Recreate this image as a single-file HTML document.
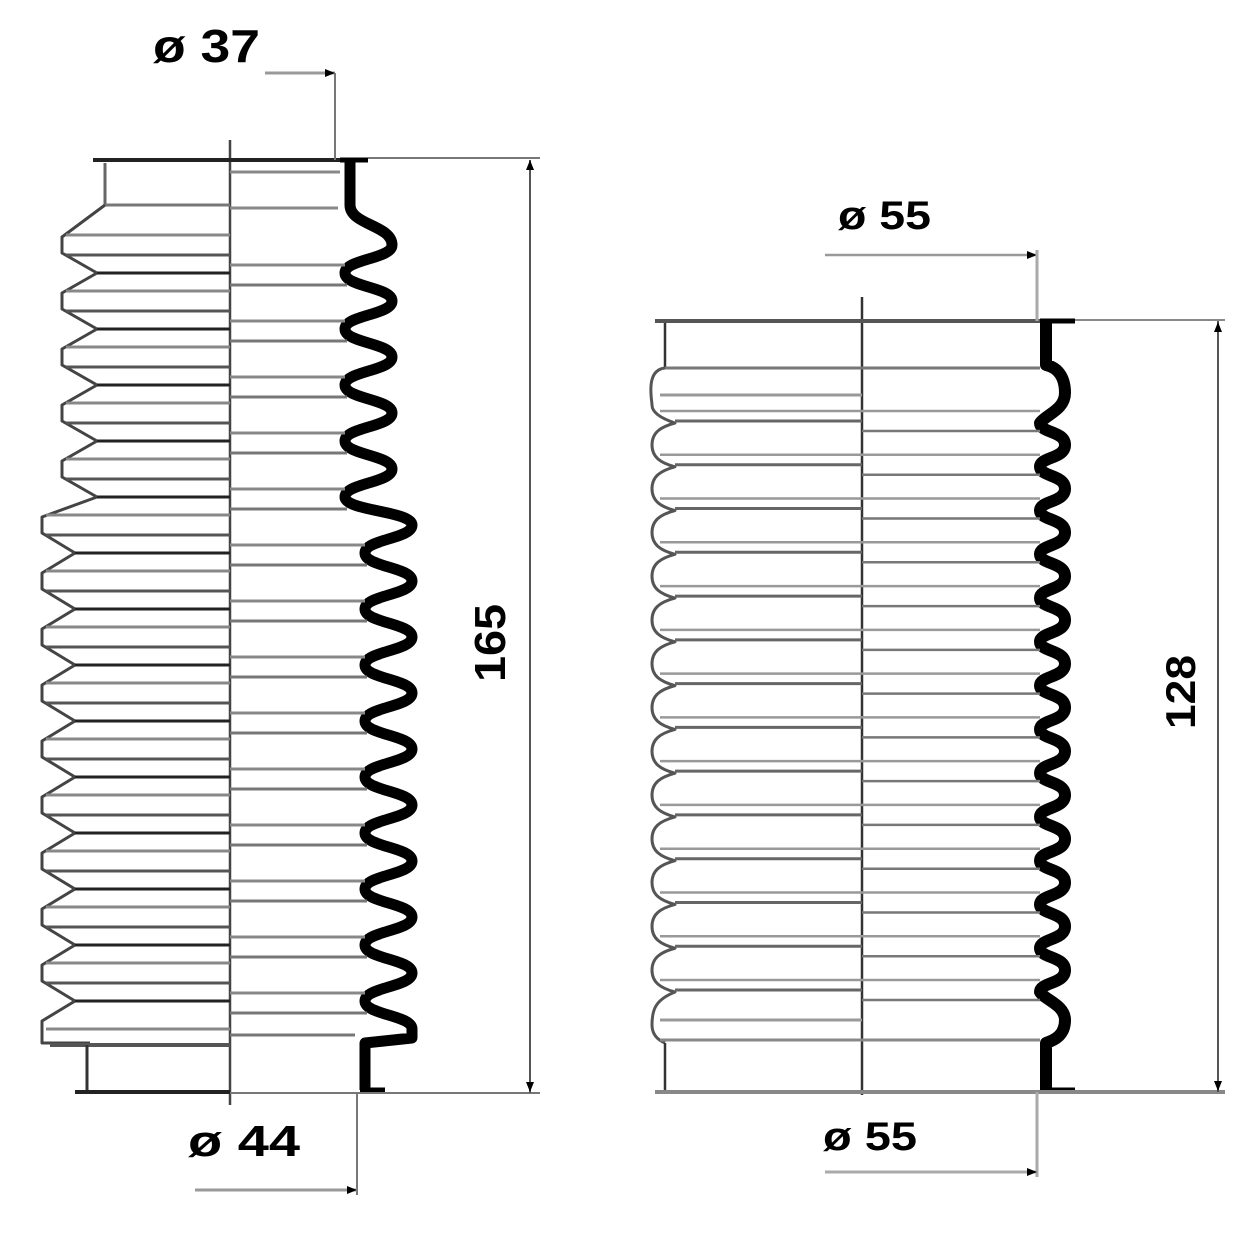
<!DOCTYPE html>
<html><head><meta charset="utf-8"><style>
html,body{margin:0;padding:0;background:#fff;width:1250px;height:1250px;overflow:hidden}
svg{display:block}
text{font-family:"Liberation Sans",Arial,sans-serif;font-weight:bold;fill:#000}
</style></head><body>
<svg id="s" width="1250" height="1250" viewBox="0 0 1250 1250" xmlns="http://www.w3.org/2000/svg">
<g id="g" fill="none" stroke-linecap="butt"></g>
<text x="153" y="62" font-size="46" textLength="107" lengthAdjust="spacingAndGlyphs">ø 37</text>
<text x="838" y="229" font-size="40" textLength="93" lengthAdjust="spacingAndGlyphs">ø 55</text>
<text x="188" y="1156" font-size="44" textLength="112" lengthAdjust="spacingAndGlyphs">ø 44</text>
<text x="823" y="1150" font-size="40" textLength="94" lengthAdjust="spacingAndGlyphs">ø 55</text>
<text transform="translate(505,682) rotate(-90)" font-size="44" textLength="78" lengthAdjust="spacingAndGlyphs">165</text>
<text transform="translate(1195,729) rotate(-90)" font-size="42" textLength="74" lengthAdjust="spacingAndGlyphs">128</text>
</svg>
<script>
var g=document.getElementById('g'),h='';
function L(x1,y1,x2,y2,c,w){h+='<line x1="'+x1+'" y1="'+y1+'" x2="'+x2+'" y2="'+y2+'" stroke="'+(c||'#555')+'" stroke-width="'+(w||2)+'"/>';}
function P(d,c,w){h+='<path d="'+d+'" stroke="'+c+'" stroke-width="'+w+'" stroke-linejoin="round"/>';}
function arrowH(x,y){h+='<polygon points="'+(x-10)+','+(y-4)+' '+x+','+y+' '+(x-10)+','+(y+4)+'" fill="#000"/>';}
function arrowV(x,y,dir){h+='<polygon points="'+(x-4)+','+(y+10*dir)+' '+x+','+y+' '+(x+4)+','+(y+10*dir)+'" fill="#000"/>';}
/* ---------- LEFT BELLOWS ---------- */
var ax=230;
L(ax,140,ax,1105,'#444',2.5);
L(93,160,368,160,'#222',4); L(368,158,540,158,'#777',2);
L(105,163,105,205,'#666',3);
L(105,205,ax,205,'#777',3); L(ax,172,340,172,'#888',3);L(ax,208,338,208,'#888',3);
var peaks=[],vals=[];
for(var i=0;i<15;i++)peaks.push(245+56*i);
for(var i=0;i<14;i++)vals.push(273+56*i);
var lp=function(i){return i<5?62:42},lv=function(i){return i<5?97:75};
var rp=function(i){return i<5?392:412},rv=function(i){return i<5?345:365};
var d='M105,205 L'+lp(0)+','+(peaks[0]-8);
for(var i=0;i<15;i++){d+=' L'+lp(i)+','+(peaks[i]-8)+' L'+lp(i)+','+(peaks[i]+8);if(i<14)d+=' L'+lv(i)+','+vals[i];}
d+=' L'+lp(14)+',1043 L90,1043';
P(d,'#444',3);
var r='M350,162 L350,205 C350,225 '+rp(0)+',225 '+rp(0)+','+peaks[0];
var px=rp(0),py=peaks[0];
for(var i=0;i<14;i++){
 var vx=rv(i),vy=vals[i];r+=' C'+px+','+((py+vy)/2)+' '+vx+','+((py+vy)/2)+' '+vx+','+vy;
 px=rp(i+1);py=peaks[i+1];r+=' C'+vx+','+((py+vy)/2)+' '+px+','+((py+vy)/2)+' '+px+','+py;
}
r+=' L'+px+',1038 L365,1043 L365,1090';
P(r,'#000',11);
L(340,160,368,160,'#000',5);L(360,1090,385,1090,'#000',5);
for(var i=0;i<14;i++){
 L(lv(i),vals[i],ax,vals[i],'#222',3);
 L(lp(i)+4,peaks[i]-10,ax,peaks[i]-10,'#888',3);
 L(lp(i)+4,peaks[i]+10,ax,peaks[i]+10,'#555',3);
 L(ax,vals[i]-8,rv(i),vals[i]-8,'#888',3);
 L(ax,vals[i]+12,rv(i)+2,vals[i]+12,'#777',3);
}
L(lp(14)+4,1029,ax,1029,'#888',3);
L(50,1045,ax,1045,'#555',4);L(ax,1035,355,1035,'#777',3);
L(87,1045,87,1090,'#333',3);
L(75,1092,ax,1092,'#222',4);L(ax,1093,540,1093,'#777',2);
L(265,73,335,73,'#999',3);arrowH(335,73);L(335,73,335,160,'#777',2);
L(530,160,530,1093,'#555',2);arrowV(530,160,1);arrowV(530,1092,-1);
L(357,1093,357,1195,'#777',2);L(195,1190,357,1190,'#999',3);arrowH(357,1190);
/* ---------- RIGHT BELLOWS ---------- */
var bx=862;
L(bx,297,bx,1095,'#333',2.5);
L(655,321,1070,321,'#555',4);L(1070,320,1225,320,'#888',2);
L(665,323,665,368,'#333',2.5);
L(665,368,1040,368,'#777',3);
var per=43.77,vy=[];for(var i=0;i<14;i++)vy.push(423+per*i);
var ld='M665,368 C645,370 652,400 652,405 C652,412 660,418 675,'+vy[0];
for(var i=0;i<13;i++){var a=vy[i],b=vy[i+1],c=(a+b)/2;
 ld+=' C660,'+(a+4)+' 652,'+(c-12)+' 652,'+c+' C652,'+(c+12)+' 660,'+(b-4)+' 675,'+b;}
ld+=' C655,1000 652,1010 652,1025 C652,1035 658,1040 665,1043';
P(ld,'#555',3);
var rd='M1046,323 L1046,365 C1060,368 1065,380 1065,393 C1065,410 1045,415 1040,'+vy[0];
for(var i=0;i<13;i++){var a=vy[i],b=vy[i+1],c=(a+b)/2;
 rd+=' C1040,'+(a+10)+' 1065,'+(c-14)+' 1065,'+c+' C1065,'+(c+14)+' 1040,'+(b-10)+' 1040,'+b;}
rd+=' C1045,1000 1065,1005 1065,1020 C1065,1035 1055,1040 1046,1043 L1046,1090';
P(rd,'#000',12);
L(1040,321,1075,321,'#000',5);L(1040,1090,1075,1090,'#000',5);
for(var i=0;i<14;i++){
 L(675,vy[i]-2,bx,vy[i]-2,'#666',3);
 L(660,vy[i]-12,1040,vy[i]-12,'#999',2.5);
 L(bx,vy[i]+8,1040,vy[i]+8,'#777',2.5);
}
L(660,395,bx,395,'#999',3);L(660,1040,1040,1040,'#888',3);L(660,1020,bx,1020,'#999',3);
L(665,1043,665,1090,'#333',2.5);
L(655,1092,1225,1092,'#888',4);
L(825,255,1037,255,'#999',2.5);arrowH(1037,255);L(1037,250,1037,321,'#aaa',3);
L(1218,321,1218,1092,'#555',2);arrowV(1218,322,1);arrowV(1218,1091,-1);
L(1037,1092,1037,1177,'#aaa',3);L(825,1172,1037,1172,'#aaa',3);arrowH(1037,1172);
g.innerHTML=h;
</script>
</body></html>
